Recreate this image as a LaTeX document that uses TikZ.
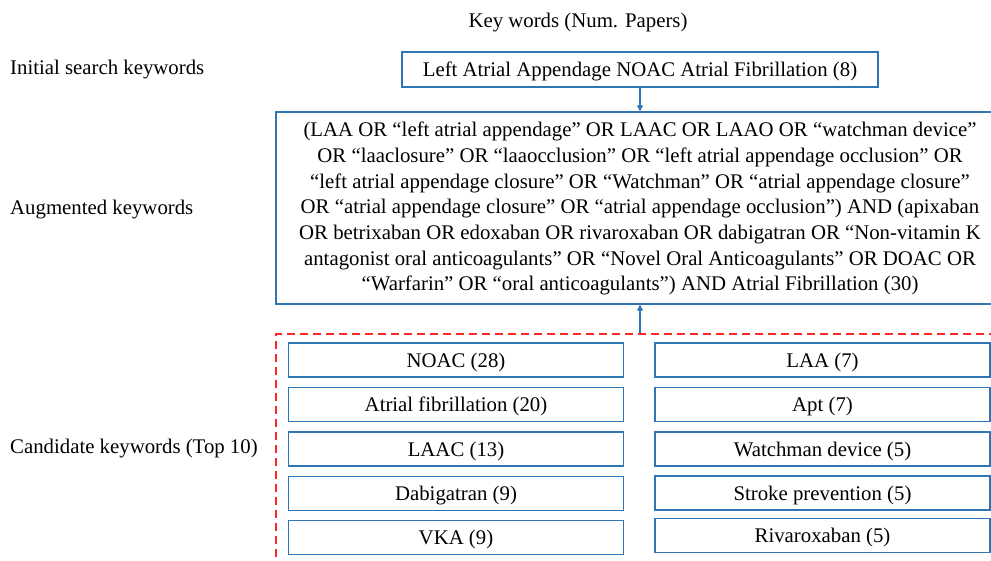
\documentclass[tikz,border=0pt]{standalone}
\usepackage{fontspec}
\setmainfont{Liberation Serif}
\usetikzlibrary{arrows.meta}
\definecolor{boxblue}{RGB}{46,117,182}
\definecolor{dashred}{RGB}{255,40,40}
\tikzset{
  lbl/.style={anchor=west, inner sep=0pt, font=\fontsize{20.8}{24}\selectfont},
  kwbox/.style={draw=boxblue, line width=1.4pt, inner sep=0pt, align=center,
                font=\fontsize{20.8}{25.7}\selectfont},
  candbox/.style={kwbox, minimum width=335pt, minimum height=34pt,
                  text height=17pt, text depth=3pt},
  candframe/.style={draw=dashred, line width=1.3pt, dash pattern=on 8pt off 5pt,
                    minimum width=728pt, minimum height=266pt, inner sep=0pt},
  arr/.style={draw=boxblue, line width=1.2pt, -{Triangle[length=6pt,width=6pt]}}
}
\begin{document}
\begin{tikzpicture}[x=1pt, y=-1pt]
\useasboundingbox (0,0) rectangle (991,561);
\clip (0,0) rectangle (991,561);

% headings and row labels
\node[inner sep=0pt, font=\fontsize{20.8}{24}\selectfont] (head) at (578,23) {Key words (Num. Papers)};
\node[lbl] (l1) at (10,69.5) {Initial search keywords};
\node[lbl] (l2) at (10,209.5) {Augmented keywords};
\node[lbl] (l3) at (10,448.5) {Candidate keywords (Top 10)};

% initial query
\node[kwbox, minimum width=476pt, minimum height=35pt,
      text height=17pt, text depth=3pt] (init) at (640,69.5)
  {Left Atrial Appendage NOAC Atrial Fibrillation (8)};

% augmented query
\node[kwbox, minimum width=728pt, minimum height=192pt] (aug) at (640,208)
  {\rule{0pt}{16pt}(LAA OR “left atrial appendage” OR LAAC OR LAAO OR “watchman device”\\
   OR “laaclosure” OR “laaocclusion” OR “left atrial appendage occlusion” OR\\
   “left atrial appendage closure” OR “Watchman” OR “atrial appendage closure”\\
   OR “atrial appendage closure” OR “atrial appendage occlusion”) AND (apixaban\\
   OR betrixaban OR edoxaban OR rivaroxaban OR dabigatran OR “Non-vitamin K\\
   antagonist oral anticoagulants” OR “Novel Oral Anticoagulants” OR DOAC OR\\
   “Warfarin” OR “oral anticoagulants”) AND Atrial Fibrillation (30)};

% candidate keywords
\node[candframe] (cand) at (640,467) {};
\node[candbox] (c1) at (456,360) {NOAC (28)};
\node[candbox] (c2) at (456,404.5) {Atrial fibrillation (20)};
\node[candbox] (c3) at (456,449) {LAAC (13)};
\node[candbox] (c4) at (456,493.5) {Dabigatran (9)};
\node[candbox] (c5) at (456,537.5) {VKA (9)};
\node[candbox] (c6) at (822.5,360) {LAA (7)};
\node[candbox] (c7) at (822.5,404.5) {Apt (7)};
\node[candbox] (c8) at (822.5,449) {Watchman device (5)};
\node[candbox] (c9) at (822.5,493) {Stroke prevention (5)};
\node[candbox] (c10) at (822.5,535.5) {Rivaroxaban (5)};

% connectors
\draw[arr] (init.south) -- (aug.north);
\draw[arr] (cand.north) -- (aug.south);
\end{tikzpicture}
\end{document}
